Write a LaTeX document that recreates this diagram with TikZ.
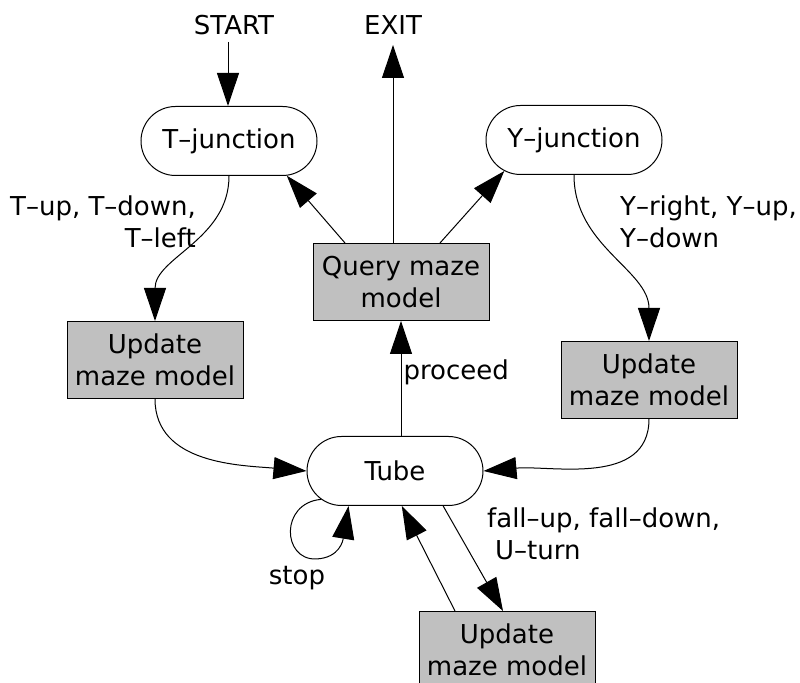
\documentclass[tikz,border=0pt]{standalone}
\usepackage{fontspec}
\setmainfont{DejaVu Sans}
\usetikzlibrary{arrows.meta,shapes.misc}
\definecolor{boxgray}{RGB}{192,192,192}
\tikzset{
  state/.style={draw, rounded rectangle, minimum width=92pt, minimum height=34.5pt, inner sep=2pt},
  modelbox/.style={draw, fill=boxgray, minimum width=88pt, minimum height=38.5pt, align=center, inner sep=2pt},
  arr/.style={-{Triangle[length=16.5pt,width=11pt]}},
}
\begin{document}
\begin{tikzpicture}[x=0.5pt, y=-0.5pt, line width=0.5pt, font=\fontsize{13}{16}\selectfont]
\useasboundingbox (0,0) rectangle (800,683);
% states
\node[state] (tj) at (229,141) {T--junction};
\node[state] (yj) at (574,140) {Y--junction};
\node[state] (tube) at (395,471) {Tube};
% model boxes
\node[modelbox] (qm) at (401,282) {Query maze\\model};
\node[modelbox] (ul) at (155,360) {Update\\maze model};
\node[modelbox] (ur) at (649,380) {Update\\maze model};
\node[modelbox] (ub) at (507,650) {Update\\maze model};
% start and exit
\node[inner sep=0pt] (start) at (234,25) {START};
\node[inner sep=0pt] (exit) at (393,25) {EXIT};
\coordinate (s0) at (228,42);
\coordinate (e0) at (393,45);
\draw[arr] (s0) -- (s0 |- tj.north);
\draw[arr] (qm.north -| e0) -- (e0);
% query
\draw[arr] ([xshift=-28pt]qm.north) -- (tj.-31);
\draw[arr] ([xshift=19.5pt]qm.north) -- (yj.204);
\draw[arr] (tube.north -| qm.south) -- (qm.south)
  node[pos=0.55, right, inner sep=1pt] {proceed};
% junctions to updates
\draw[arr] (tj.south) to[out=-90, in=90] (ul.north);
\node[align=right, anchor=east] at (203,222) {T--up, T--down,\\T--left};
\draw[arr] (yj.south) to[out=-90, in=90] (ur.north);
\node[align=left, anchor=west] at (613,222) {Y--right, Y--up,\\Y--down};
% updates to tube
\draw[arr] (ul.south) to[out=-90, in=175] (tube.west);
\draw[arr] (ur.south) to[out=-90, in=5] (tube.east);
% stop loop
\draw[arr] (tube.201) .. controls (280,503) and (282,560) .. (316,559)
  .. controls (340,558) and (343,540) .. (tube.217);
\node at (297,578) {stop};
% falling
\draw[arr] (tube.-36) -- ([xshift=-2pt]ub.north);
\node[align=left, anchor=west] at (480,534) {fall--up, fall--down,\\\hspace{4pt}U--turn};
\draw[arr] ([xshift=-26pt]ub.north) -- (tube.-79);
\end{tikzpicture}
\end{document}
